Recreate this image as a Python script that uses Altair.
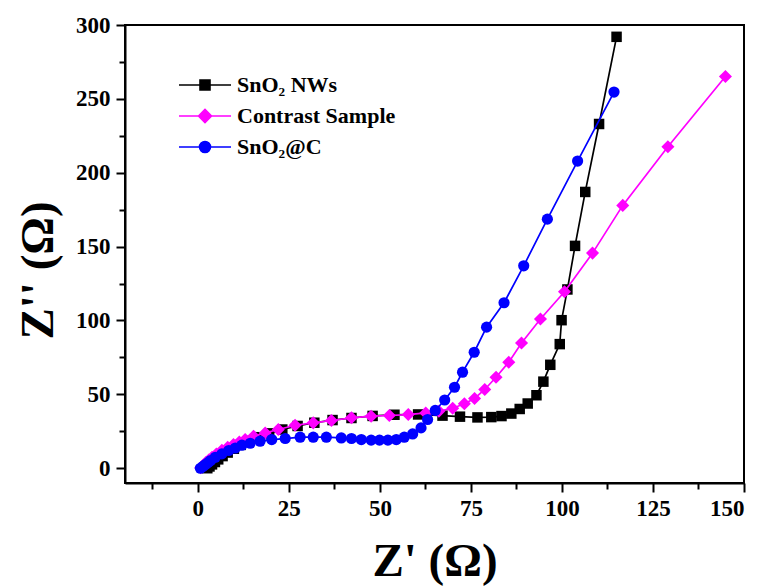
import altair as alt
import pandas as pd

# ---- data ----
names = ["SnO₂ NWs", "Contrast Sample", "SnO₂@C"]
colors = ["#000000", "#FF00FF", "#0000FF"]
shapes = ["square", "diamond", "circle"]
sizes = [110, 170, 125]

nws_x = [2.6, 3.2, 3.9, 4.7, 5.6, 6.8, 8.2, 9.9, 11.8, 14.0, 16.6, 19.6, 23.2, 27.4, 32.0,
         37.0, 42.2, 48.0, 54.0, 60.5, 67.2, 72.0, 76.8, 80.6, 83.4, 86.1, 88.4, 90.6, 93.0,
         94.9, 96.8, 99.4, 99.9, 101.5, 103.6, 106.4, 110.2, 115.0]
nws_y = [0.0, 1.2, 2.6, 4.2, 6.0, 8.2, 10.6, 13.2, 15.8, 18.4, 21.0, 23.6, 26.2, 28.6, 30.8,
         32.6, 34.0, 35.4, 36.2, 36.4, 35.6, 34.9, 34.4, 34.6, 35.3, 37.0, 40.1, 43.8, 49.4,
         58.6, 70.0, 84.0, 100.2, 121.0, 150.5, 187.0, 233.0, 292.0]

cs_x = [0.8, 1.5, 2.2, 3.0, 3.9, 5.1, 6.6, 8.2, 9.8, 11.4, 13.0, 15.3, 18.5, 22.1, 26.7,
        31.7, 36.7, 42.2, 47.6, 52.6, 57.8, 62.6, 66.2, 70.0, 73.2, 76.0, 78.8, 81.9, 85.4,
        88.9, 94.1, 100.7, 108.4, 116.7, 129.1, 144.9]
cs_y = [0.3, 2.0, 3.8, 5.6, 7.4, 9.6, 12.2, 14.2, 16.0, 17.8, 19.4, 21.7, 23.9, 26.2, 29.1,
        30.7, 32.3, 34.1, 35.2, 35.7, 36.3, 37.4, 38.6, 40.6, 43.6, 47.2, 53.3, 61.6, 71.8,
        84.8, 101.0, 119.4, 145.6, 177.9, 217.6, 265.2]

c_x = [0.7, 1.4, 2.1, 2.8, 3.5, 4.8, 6.6, 8.5, 10.3, 12.1, 14.4, 17.1, 20.3, 24.0, 28.1,
       31.7, 35.3, 39.4, 42.2, 44.9, 47.6, 49.9, 52.2, 54.5, 56.7, 59.0, 61.3, 63.1, 65.2,
       67.8, 70.5, 72.7, 75.9, 79.3, 84.1, 89.5, 96.0, 104.3, 114.3]
c_y = [0.0, 1.2, 2.5, 3.8, 5.2, 7.4, 9.7, 12.0, 13.7, 15.6, 16.9, 18.3, 19.4, 20.1, 21.0,
       21.0, 21.0, 20.5, 20.1, 19.4, 19.0, 19.0, 19.0, 19.4, 21.0, 23.2, 27.3, 33.0, 39.1,
       46.2, 54.8, 65.0, 78.5, 95.5, 112.0, 137.0, 168.6, 207.9, 254.6]

x_major = [0, 25, 50, 75, 100, 125, 150]
x_minor = [-12.5, 12.5, 37.5, 62.5, 87.5, 112.5, 137.5]
y_major = [0, 50, 100, 150, 200, 250, 300]
y_minor = [25, 75, 125, 175, 225, 275]

rows = []
for name, xs, ys in zip(names, [nws_x, cs_x, c_x], [nws_y, cs_y, c_y]):
    for i, (xv, yv) in enumerate(zip(xs, ys)):
        rows.append({"series": name, "x": xv, "y": yv, "idx": i})
df = pd.DataFrame(rows)

FONT = "Liberation Serif"

# legend symbols: a line through the marker (custom paths, unit = sqrt(size)/2 px)
line_part = "M-5.2,0H5.2"
legend_paths = [
    line_part + "M-1,-1H1V1H-1Z",
    line_part + "M-1.3,0L0,-1.3L1.3,0L0,1.3Z",
    line_part + "M-1.1,0A1.1,1.1,0,1,0,1.1,0A1.1,1.1,0,1,0,-1.1,0Z",
]

legend = alt.Legend(
    title=None, orient="none", legendX=69, legendY=49, padding=0,
    labelFont=FONT, labelFontWeight="bold", labelFontSize=22, labelColor="black",
    labelOffset=21, labelLimit=0, symbolSize=100, rowPadding=9,
    symbolStrokeWidth=1.6, symbolOpacity=1,
)

xscale = alt.Scale(domain=[-20, 150], nice=False, zero=False)
yscale = alt.Scale(domain=[-10, 300], nice=False, zero=False)
color_scale = alt.Scale(domain=names, range=colors)

axis_common = dict(grid=False, tickColor="black", tickWidth=2, domainColor="black",
                   domainWidth=2, labelFont=FONT, labelFontWeight="bold", labelFontSize=23,
                   labelColor="black", titleFont=FONT, titleFontWeight="bold",
                   titleFontSize=47, titleColor="black")

x_axis_major = alt.Axis(values=x_major, orient="bottom", tickSize=9, labelPadding=5,
                        title="Z' (Ω)", titleBaseline="alphabetic", titleY=92, **axis_common)
y_axis_major = alt.Axis(values=y_major, orient="left", tickSize=9, labelPadding=6,
                        title="Z'' (Ω)", titleBaseline="alphabetic", titleX=-73, titleY=245,
                        titleAngle=-90, **axis_common)
x_axis_minor = alt.Axis(values=x_minor, orient="bottom", tickSize=6, labels=False,
                        domain=False, title=None, grid=False, tickColor="black", tickWidth=2)
y_axis_minor = alt.Axis(values=y_minor, orient="left", tickSize=6, labels=False,
                        domain=False, title=None, grid=False, tickColor="black", tickWidth=2)

base = alt.Chart(df)

layers = []
for k, (name, col, shp, sz) in enumerate(zip(names, colors, shapes, sizes)):
    sub = base.transform_filter(alt.datum.series == name)
    xa = x_axis_major if k == 0 else None
    ya = y_axis_major if k == 0 else None
    layers.append(
        sub.mark_line(strokeWidth=1.7, color=col).encode(
            x=alt.X("x:Q", scale=xscale, axis=xa),
            y=alt.Y("y:Q", scale=yscale, axis=ya),
            order=alt.Order("idx:Q"),
        )
    )
    layers.append(
        sub.mark_point(filled=True, opacity=1, shape=shp, size=sz, color=col).encode(
            x=alt.X("x:Q", scale=xscale, axis=None),
            y=alt.Y("y:Q", scale=yscale, axis=None),
        )
    )

# empty layer that only carries the legend and the minor ticks
legend_layer = base.transform_filter("datum.idx < 0").mark_point(
    filled=True, opacity=1, size=100, strokeWidth=1.6
).encode(
    x=alt.X("x:Q", scale=xscale, axis=x_axis_minor),
    y=alt.Y("y:Q", scale=yscale, axis=y_axis_minor),
    color=alt.Color("series:N", scale=color_scale, legend=legend),
    stroke=alt.Stroke("series:N", scale=color_scale, legend=legend),
    shape=alt.Shape("series:N", scale=alt.Scale(domain=names, range=legend_paths), legend=legend),
)

chart = alt.layer(*layers, legend_layer).resolve_axis(
    x="independent", y="independent"
).properties(
    width=619, height=458,
    autosize=alt.AutoSizeParams(type="none"),
    padding={"left": 117, "top": 17, "right": 12, "bottom": 105},
    background="white",
).configure_view(stroke="black", strokeWidth=2)

chart.save("out.html", embed_options={"renderer": "svg", "actions": False})
